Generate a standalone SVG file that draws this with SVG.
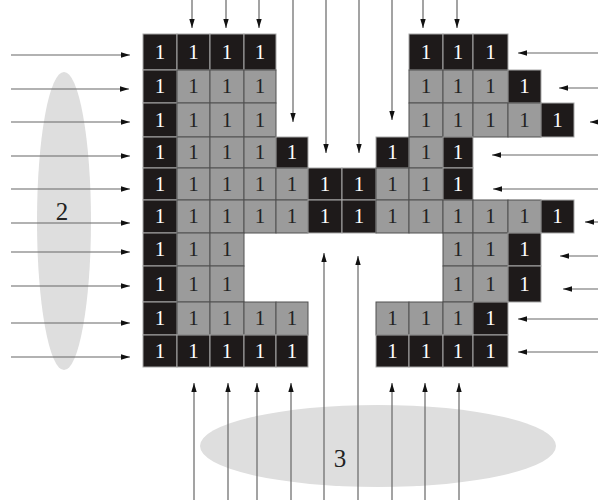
<svg xmlns="http://www.w3.org/2000/svg" width="598" height="504" viewBox="0 0 598 504">
<style>
.b rect{fill:#1e1a1a;stroke:#a8a8a8;stroke-width:1}
.g rect{fill:#9b9b9b;stroke:#505050;stroke-width:1}
text{font-family:"Liberation Serif","Times New Roman",serif;text-anchor:middle}
.b text,.g text{font-size:21px}
.b text{fill:#ffffff}
.g text{fill:#222222}
.zone{fill:#dedede}
.lbl{font-size:25px;fill:#222}
.arr line{stroke:#666;stroke-width:1.2;marker-end:url(#ah)}
</style>
<defs>
<marker id="ah" viewBox="0 0 10 10" refX="10" refY="5" markerWidth="9" markerHeight="9" markerUnits="userSpaceOnUse" orient="auto"><path d="M0,2 L10,5 L0,8 z" fill="#111"/></marker>
</defs>
<rect width="598" height="504" fill="#fff"/>
<g id="zone2"><ellipse class="zone" cx="64" cy="221" rx="27" ry="149"/><text class="lbl" x="62" y="220">2</text></g>
<g id="zone3"><ellipse class="zone" cx="378" cy="446" rx="178" ry="41"/><text class="lbl" x="340" y="467">3</text></g>

<!-- row 0 -->
<g id="c0-0" class="b"><rect x="143" y="34" width="34" height="36"/><text x="160" y="59">1</text></g>
<g id="c0-1" class="b"><rect x="177" y="34" width="33" height="36"/><text x="193.5" y="59">1</text></g>
<g id="c0-2" class="b"><rect x="210" y="34" width="34" height="36"/><text x="227" y="59">1</text></g>
<g id="c0-3" class="b"><rect x="244" y="34" width="32" height="36"/><text x="260" y="59">1</text></g>
<g id="c0-8" class="b"><rect x="409" y="34" width="34" height="36"/><text x="426" y="59">1</text></g>
<g id="c0-9" class="b"><rect x="443" y="34" width="30" height="36"/><text x="458" y="59">1</text></g>
<g id="c0-10" class="b"><rect x="473" y="34" width="35" height="36"/><text x="490.5" y="59">1</text></g>
<!-- row 1 -->
<g id="c1-0" class="b"><rect x="143" y="70" width="34" height="33"/><text x="160" y="93">1</text></g>
<g id="c1-1" class="g"><rect x="177" y="70" width="33" height="33"/><text x="193.5" y="93">1</text></g>
<g id="c1-2" class="g"><rect x="210" y="70" width="34" height="33"/><text x="227" y="93">1</text></g>
<g id="c1-3" class="g"><rect x="244" y="70" width="32" height="33"/><text x="260" y="93">1</text></g>
<g id="c1-8" class="g"><rect x="409" y="70" width="34" height="33"/><text x="426" y="93">1</text></g>
<g id="c1-9" class="g"><rect x="443" y="70" width="30" height="33"/><text x="458" y="93">1</text></g>
<g id="c1-10" class="g"><rect x="473" y="70" width="35" height="33"/><text x="490.5" y="93">1</text></g>
<g id="c1-11" class="b"><rect x="508" y="70" width="33" height="33"/><text x="524.5" y="93">1</text></g>
<!-- row 2 -->
<g id="c2-0" class="b"><rect x="143" y="103" width="34" height="34"/><text x="160" y="127">1</text></g>
<g id="c2-1" class="g"><rect x="177" y="103" width="33" height="34"/><text x="193.5" y="127">1</text></g>
<g id="c2-2" class="g"><rect x="210" y="103" width="34" height="34"/><text x="227" y="127">1</text></g>
<g id="c2-3" class="g"><rect x="244" y="103" width="32" height="34"/><text x="260" y="127">1</text></g>
<g id="c2-8" class="g"><rect x="409" y="103" width="34" height="34"/><text x="426" y="127">1</text></g>
<g id="c2-9" class="g"><rect x="443" y="103" width="30" height="34"/><text x="458" y="127">1</text></g>
<g id="c2-10" class="g"><rect x="473" y="103" width="35" height="34"/><text x="490.5" y="127">1</text></g>
<g id="c2-11" class="g"><rect x="508" y="103" width="33" height="34"/><text x="524.5" y="127">1</text></g>
<g id="c2-12" class="b"><rect x="541" y="103" width="33" height="34"/><text x="557.5" y="127">1</text></g>
<!-- row 3 -->
<g id="c3-0" class="b"><rect x="143" y="137" width="34" height="31"/><text x="160" y="159">1</text></g>
<g id="c3-1" class="g"><rect x="177" y="137" width="33" height="31"/><text x="193.5" y="159">1</text></g>
<g id="c3-2" class="g"><rect x="210" y="137" width="34" height="31"/><text x="227" y="159">1</text></g>
<g id="c3-3" class="g"><rect x="244" y="137" width="32" height="31"/><text x="260" y="159">1</text></g>
<g id="c3-4" class="b"><rect x="276" y="137" width="32" height="31"/><text x="292" y="159">1</text></g>
<g id="c3-7" class="b"><rect x="376" y="137" width="33" height="31"/><text x="392.5" y="159">1</text></g>
<g id="c3-8" class="g"><rect x="409" y="137" width="34" height="31"/><text x="426" y="159">1</text></g>
<g id="c3-9" class="b"><rect x="443" y="137" width="30" height="31"/><text x="458" y="159">1</text></g>
<!-- row 4 -->
<g id="c4-0" class="b"><rect x="143" y="168" width="34" height="32"/><text x="160" y="191">1</text></g>
<g id="c4-1" class="g"><rect x="177" y="168" width="33" height="32"/><text x="193.5" y="191">1</text></g>
<g id="c4-2" class="g"><rect x="210" y="168" width="34" height="32"/><text x="227" y="191">1</text></g>
<g id="c4-3" class="g"><rect x="244" y="168" width="32" height="32"/><text x="260" y="191">1</text></g>
<g id="c4-4" class="g"><rect x="276" y="168" width="32" height="32"/><text x="292" y="191">1</text></g>
<g id="c4-5" class="b"><rect x="308" y="168" width="34" height="32"/><text x="325" y="191">1</text></g>
<g id="c4-6" class="b"><rect x="342" y="168" width="34" height="32"/><text x="359" y="191">1</text></g>
<g id="c4-7" class="g"><rect x="376" y="168" width="33" height="32"/><text x="392.5" y="191">1</text></g>
<g id="c4-8" class="g"><rect x="409" y="168" width="34" height="32"/><text x="426" y="191">1</text></g>
<g id="c4-9" class="b"><rect x="443" y="168" width="30" height="32"/><text x="458" y="191">1</text></g>
<!-- row 5 -->
<g id="c5-0" class="b"><rect x="143" y="200" width="34" height="33"/><text x="160" y="223">1</text></g>
<g id="c5-1" class="g"><rect x="177" y="200" width="33" height="33"/><text x="193.5" y="223">1</text></g>
<g id="c5-2" class="g"><rect x="210" y="200" width="34" height="33"/><text x="227" y="223">1</text></g>
<g id="c5-3" class="g"><rect x="244" y="200" width="32" height="33"/><text x="260" y="223">1</text></g>
<g id="c5-4" class="g"><rect x="276" y="200" width="32" height="33"/><text x="292" y="223">1</text></g>
<g id="c5-5" class="b"><rect x="308" y="200" width="34" height="33"/><text x="325" y="223">1</text></g>
<g id="c5-6" class="b"><rect x="342" y="200" width="34" height="33"/><text x="359" y="223">1</text></g>
<g id="c5-7" class="g"><rect x="376" y="200" width="33" height="33"/><text x="392.5" y="223">1</text></g>
<g id="c5-8" class="g"><rect x="409" y="200" width="34" height="33"/><text x="426" y="223">1</text></g>
<g id="c5-9" class="g"><rect x="443" y="200" width="30" height="33"/><text x="458" y="223">1</text></g>
<g id="c5-10" class="g"><rect x="473" y="200" width="35" height="33"/><text x="490.5" y="223">1</text></g>
<g id="c5-11" class="g"><rect x="508" y="200" width="33" height="33"/><text x="524.5" y="223">1</text></g>
<g id="c5-12" class="b"><rect x="541" y="200" width="33" height="33"/><text x="557.5" y="223">1</text></g>
<!-- row 6 -->
<g id="c6-0" class="b"><rect x="143" y="233" width="34" height="33"/><text x="160" y="256">1</text></g>
<g id="c6-1" class="g"><rect x="177" y="233" width="33" height="33"/><text x="193.5" y="256">1</text></g>
<g id="c6-2" class="g"><rect x="210" y="233" width="34" height="33"/><text x="227" y="256">1</text></g>
<g id="c6-9" class="g"><rect x="443" y="233" width="30" height="33"/><text x="458" y="256">1</text></g>
<g id="c6-10" class="g"><rect x="473" y="233" width="35" height="33"/><text x="490.5" y="256">1</text></g>
<g id="c6-11" class="b"><rect x="508" y="233" width="33" height="33"/><text x="524.5" y="256">1</text></g>
<!-- row 7 -->
<g id="c7-0" class="b"><rect x="143" y="266" width="34" height="36"/><text x="160" y="291">1</text></g>
<g id="c7-1" class="g"><rect x="177" y="266" width="33" height="36"/><text x="193.5" y="291">1</text></g>
<g id="c7-2" class="g"><rect x="210" y="266" width="34" height="36"/><text x="227" y="291">1</text></g>
<g id="c7-9" class="g"><rect x="443" y="266" width="30" height="36"/><text x="458" y="291">1</text></g>
<g id="c7-10" class="g"><rect x="473" y="266" width="35" height="36"/><text x="490.5" y="291">1</text></g>
<g id="c7-11" class="b"><rect x="508" y="266" width="33" height="36"/><text x="524.5" y="291">1</text></g>
<!-- row 8 -->
<g id="c8-0" class="b"><rect x="143" y="302" width="34" height="33"/><text x="160" y="325">1</text></g>
<g id="c8-1" class="g"><rect x="177" y="302" width="33" height="33"/><text x="193.5" y="325">1</text></g>
<g id="c8-2" class="g"><rect x="210" y="302" width="34" height="33"/><text x="227" y="325">1</text></g>
<g id="c8-3" class="g"><rect x="244" y="302" width="32" height="33"/><text x="260" y="325">1</text></g>
<g id="c8-4" class="g"><rect x="276" y="302" width="32" height="33"/><text x="292" y="325">1</text></g>
<g id="c8-7" class="g"><rect x="376" y="302" width="33" height="33"/><text x="392.5" y="325">1</text></g>
<g id="c8-8" class="g"><rect x="409" y="302" width="34" height="33"/><text x="426" y="325">1</text></g>
<g id="c8-9" class="g"><rect x="443" y="302" width="30" height="33"/><text x="458" y="325">1</text></g>
<g id="c8-10" class="b"><rect x="473" y="302" width="35" height="33"/><text x="490.5" y="325">1</text></g>
<!-- row 9 -->
<g id="c9-0" class="b"><rect x="143" y="335" width="34" height="32"/><text x="160" y="358">1</text></g>
<g id="c9-1" class="b"><rect x="177" y="335" width="33" height="32"/><text x="193.5" y="358">1</text></g>
<g id="c9-2" class="b"><rect x="210" y="335" width="34" height="32"/><text x="227" y="358">1</text></g>
<g id="c9-3" class="b"><rect x="244" y="335" width="32" height="32"/><text x="260" y="358">1</text></g>
<g id="c9-4" class="b"><rect x="276" y="335" width="32" height="32"/><text x="292" y="358">1</text></g>
<g id="c9-7" class="b"><rect x="376" y="335" width="33" height="32"/><text x="392.5" y="358">1</text></g>
<g id="c9-8" class="b"><rect x="409" y="335" width="34" height="32"/><text x="426" y="358">1</text></g>
<g id="c9-9" class="b"><rect x="443" y="335" width="30" height="32"/><text x="458" y="358">1</text></g>
<g id="c9-10" class="b"><rect x="473" y="335" width="35" height="32"/><text x="490.5" y="358">1</text></g>

<g id="connectors" class="arr">
<!-- left, pointing right -->
<line x1="11" y1="55" x2="130" y2="55"/>
<line x1="11" y1="89" x2="129" y2="89"/>
<line x1="11" y1="122" x2="130" y2="122"/>
<line x1="11" y1="156" x2="130" y2="156"/>
<line x1="11" y1="189" x2="130" y2="189"/>
<line x1="11" y1="223" x2="130" y2="223"/>
<line x1="11" y1="252" x2="130" y2="252"/>
<line x1="11" y1="286" x2="130" y2="286"/>
<line x1="11" y1="323" x2="130" y2="323"/>
<line x1="11" y1="357" x2="130" y2="357"/>
<!-- right, pointing left -->
<line x1="598" y1="53" x2="518" y2="53"/>
<line x1="598" y1="88" x2="559" y2="88"/>
<line x1="598" y1="122" x2="590" y2="122"/>
<line x1="598" y1="155" x2="492" y2="155"/>
<line x1="598" y1="189" x2="493" y2="189"/>
<line x1="598" y1="222" x2="585" y2="222"/>
<line x1="598" y1="256" x2="560" y2="256"/>
<line x1="598" y1="289" x2="563" y2="289"/>
<line x1="598" y1="319" x2="518" y2="319"/>
<line x1="598" y1="352" x2="518" y2="352"/>
<!-- top, pointing down -->
<line x1="192" y1="0" x2="192" y2="28"/>
<line x1="226" y1="0" x2="226" y2="28"/>
<line x1="259" y1="0" x2="259" y2="28"/>
<line x1="293" y1="0" x2="293" y2="122"/>
<line x1="326" y1="0" x2="326" y2="153"/>
<line x1="359" y1="0" x2="359" y2="153"/>
<line x1="392" y1="0" x2="392" y2="120"/>
<line x1="423" y1="0" x2="423" y2="28"/>
<line x1="457" y1="0" x2="457" y2="28"/>
<!-- bottom, pointing up -->
<line x1="194" y1="500" x2="194" y2="383"/>
<line x1="228" y1="500" x2="228" y2="383"/>
<line x1="257" y1="500" x2="257" y2="383"/>
<line x1="291" y1="500" x2="291" y2="383"/>
<line x1="324" y1="500" x2="324" y2="253"/>
<line x1="358" y1="500" x2="358" y2="256"/>
<line x1="392" y1="500" x2="392" y2="383"/>
<line x1="425" y1="500" x2="425" y2="383"/>
<line x1="459" y1="500" x2="459" y2="383"/>
</g>
</svg>
